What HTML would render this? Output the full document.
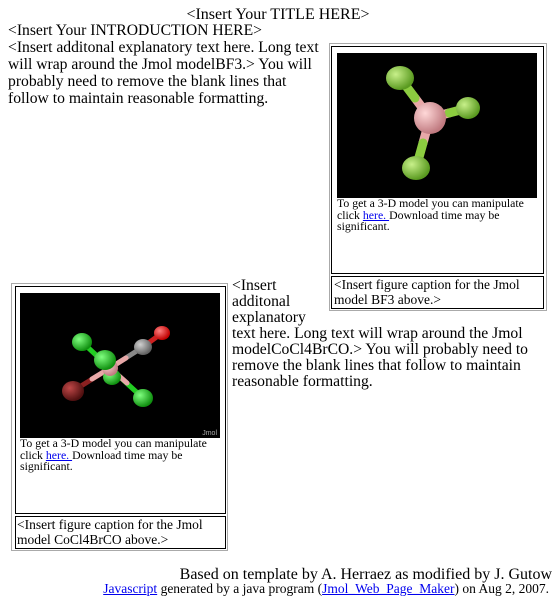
<!DOCTYPE html>
<html><head><meta charset="utf-8"><style>
body{margin:0;width:556px;height:597px;background:#fff;position:relative;overflow:hidden;font-family:"Liberation Serif",serif;color:#000}
.l{position:absolute;white-space:nowrap;font-size:15.65px;line-height:17px}
.s{font-size:11.8px;line-height:11.5px;position:absolute;white-space:nowrap}
.c{font-size:13.5px;line-height:15px;position:absolute;white-space:nowrap}
.box{position:absolute;border:1px solid #aaa;box-sizing:border-box}
.in{position:absolute;border:1px solid #000;box-sizing:border-box}
a{color:#00e}
</style></head><body>
<div class="l" style="left:0;width:556px;text-align:center;top:6px;font-size:16px">&lt;Insert Your TITLE HERE&gt;</div>
<div class="l" style="left:8px;top:22px">&lt;Insert Your INTRODUCTION HERE&gt;</div>
<div>
<div class="l" style="left:8px;top:39px">&lt;Insert additonal explanatory text here. Long text</div>
<div class="l" style="left:8px;top:56px">will wrap around the Jmol modelBF3.&gt; You will</div>
<div class="l" style="left:8px;top:73px">probably need to remove the blank lines that</div>
<div class="l" style="left:8px;top:90px">follow to maintain reasonable formatting.</div>
</div>

<div class="box" style="left:329px;top:43px;width:218px;height:268px"></div>
<div class="in" style="left:331px;top:46px;width:213px;height:228px"></div>
<svg style="position:absolute;left:337px;top:53px" width="200" height="145">
<defs>
<radialGradient id="gF" cx="35%" cy="35%" r="65%"><stop offset="0" stop-color="#c8f08a"/><stop offset="1" stop-color="#5a9a20"/></radialGradient>
<radialGradient id="gB" cx="35%" cy="35%" r="65%"><stop offset="0" stop-color="#ffd8d8"/><stop offset="1" stop-color="#c07a80"/></radialGradient>
<radialGradient id="gCl" cx="35%" cy="35%" r="65%"><stop offset="0" stop-color="#80ff80"/><stop offset="1" stop-color="#109010"/></radialGradient>
<radialGradient id="gBr" cx="35%" cy="35%" r="65%"><stop offset="0" stop-color="#c04848"/><stop offset="1" stop-color="#501010"/></radialGradient>
<radialGradient id="gC" cx="35%" cy="35%" r="65%"><stop offset="0" stop-color="#d0d0d0"/><stop offset="1" stop-color="#606060"/></radialGradient>
<radialGradient id="gO" cx="35%" cy="35%" r="65%"><stop offset="0" stop-color="#ff8080"/><stop offset="1" stop-color="#c00000"/></radialGradient>
</defs>
<rect width="200" height="145" fill="#000"/>
<g stroke-width="9" stroke-linecap="round">
<line x1="93" y1="65" x2="78" y2="45" stroke="#e8a8a8"/><line x1="78" y1="45" x2="63" y2="25" stroke="#8ccc40"/>
<line x1="93" y1="65" x2="112" y2="60" stroke="#e8a8a8"/><line x1="112" y1="60" x2="131" y2="55" stroke="#8ccc40"/>
<line x1="93" y1="65" x2="86" y2="90" stroke="#e8a8a8"/><line x1="86" y1="90" x2="79" y2="115" stroke="#8ccc40"/>
</g>
<ellipse cx="63" cy="25" rx="14" ry="12" fill="url(#gF)"/>
<ellipse cx="131" cy="55" rx="12" ry="11" fill="url(#gF)"/>
<circle cx="93" cy="65" r="16" fill="url(#gB)"/>
<ellipse cx="79" cy="115" rx="14" ry="12" fill="url(#gF)"/>
</svg>
<div>
<div class="s" style="left:337px;top:198px">To get a 3-D model you can manipulate</div>
<div class="s" style="left:337px;top:209.5px">click <a href="#">here. </a>Download time may be</div>
<div class="s" style="left:337px;top:221px">significant.</div>
</div>
<div class="in" style="left:331px;top:276px;width:213px;height:33px"></div>
<div class="c" style="left:334px;top:277px">&lt;Insert figure caption for the Jmol<br>model BF3 above.&gt;</div>

<div class="box" style="left:11px;top:283px;width:217px;height:268px"></div>
<div class="in" style="left:15px;top:286px;width:211px;height:228px"></div>
<svg style="position:absolute;left:20px;top:293px" width="200" height="145">
<rect width="200" height="145" fill="#000"/>
<g stroke-width="5" stroke-linecap="round">
<line x1="90" y1="75" x2="62" y2="49" stroke="#22cc22"/>
<line x1="90" y1="75" x2="92" y2="82" stroke="#22cc22"/>
<line x1="90" y1="75" x2="123" y2="105" stroke="#22cc22"/>
<line x1="90" y1="75" x2="107" y2="90" stroke="#e8a8a8"/>
<line x1="90" y1="75" x2="53" y2="98" stroke="#8a2020"/>
<line x1="90" y1="75" x2="72" y2="86" stroke="#e8a8a8"/>
<line x1="90" y1="75" x2="123" y2="54" stroke="#888"/>
<line x1="90" y1="75" x2="106" y2="65" stroke="#e8a8a8"/>
<line x1="123" y1="54" x2="142" y2="40" stroke="#cc2020"/>
</g>
<ellipse cx="92" cy="84" rx="9" ry="8" fill="url(#gCl)"/>
<ellipse cx="62" cy="49" rx="10" ry="9" fill="url(#gCl)"/>
<circle cx="90" cy="75" r="8" fill="url(#gB)"/>
<ellipse cx="85" cy="67" rx="11" ry="10" fill="url(#gCl)"/>
<ellipse cx="123" cy="105" rx="10" ry="9" fill="url(#gCl)"/>
<ellipse cx="53" cy="98" rx="11" ry="10" fill="url(#gBr)"/>
<ellipse cx="123" cy="54" rx="9" ry="8" fill="url(#gC)"/>
<ellipse cx="142" cy="40" rx="8" ry="7" fill="url(#gO)"/>
<text x="197" y="142" font-size="7" fill="#aaa" text-anchor="end" font-family="Liberation Sans, sans-serif">Jmol</text>
</svg>
<div>
<div class="s" style="left:20px;top:438px">To get a 3-D model you can manipulate</div>
<div class="s" style="left:20px;top:449.5px">click <a href="#">here. </a>Download time may be</div>
<div class="s" style="left:20px;top:461px">significant.</div>
</div>
<div class="in" style="left:15px;top:516px;width:211px;height:33px"></div>
<div class="c" style="left:17px;top:517px">&lt;Insert figure caption for the Jmol<br>model CoCl4BrCO above.&gt;</div>

<div>
<div class="l" style="left:232px;top:277px">&lt;Insert</div>
<div class="l" style="left:232px;top:293px">additonal</div>
<div class="l" style="left:232px;top:309px">explanatory</div>
<div class="l" style="left:232px;top:325px">text here. Long text will wrap around the Jmol</div>
<div class="l" style="left:232px;top:341px">modelCoCl4BrCO.&gt; You will probably need to</div>
<div class="l" style="left:232px;top:357px">remove the blank lines that follow to maintain</div>
<div class="l" style="left:232px;top:373px">reasonable formatting.</div>
</div>

<div class="l" style="right:4px;top:566px;font-size:16px">Based on template by A. Herraez as modified by J. Gutow</div>
<div class="l" style="right:7px;top:581px;font-size:13.5px;line-height:15px"><a href="#">Javascript</a> generated by a java program (<a href="#">Jmol_Web_Page_Maker</a>) on Aug 2, 2007.</div>
</body></html>
